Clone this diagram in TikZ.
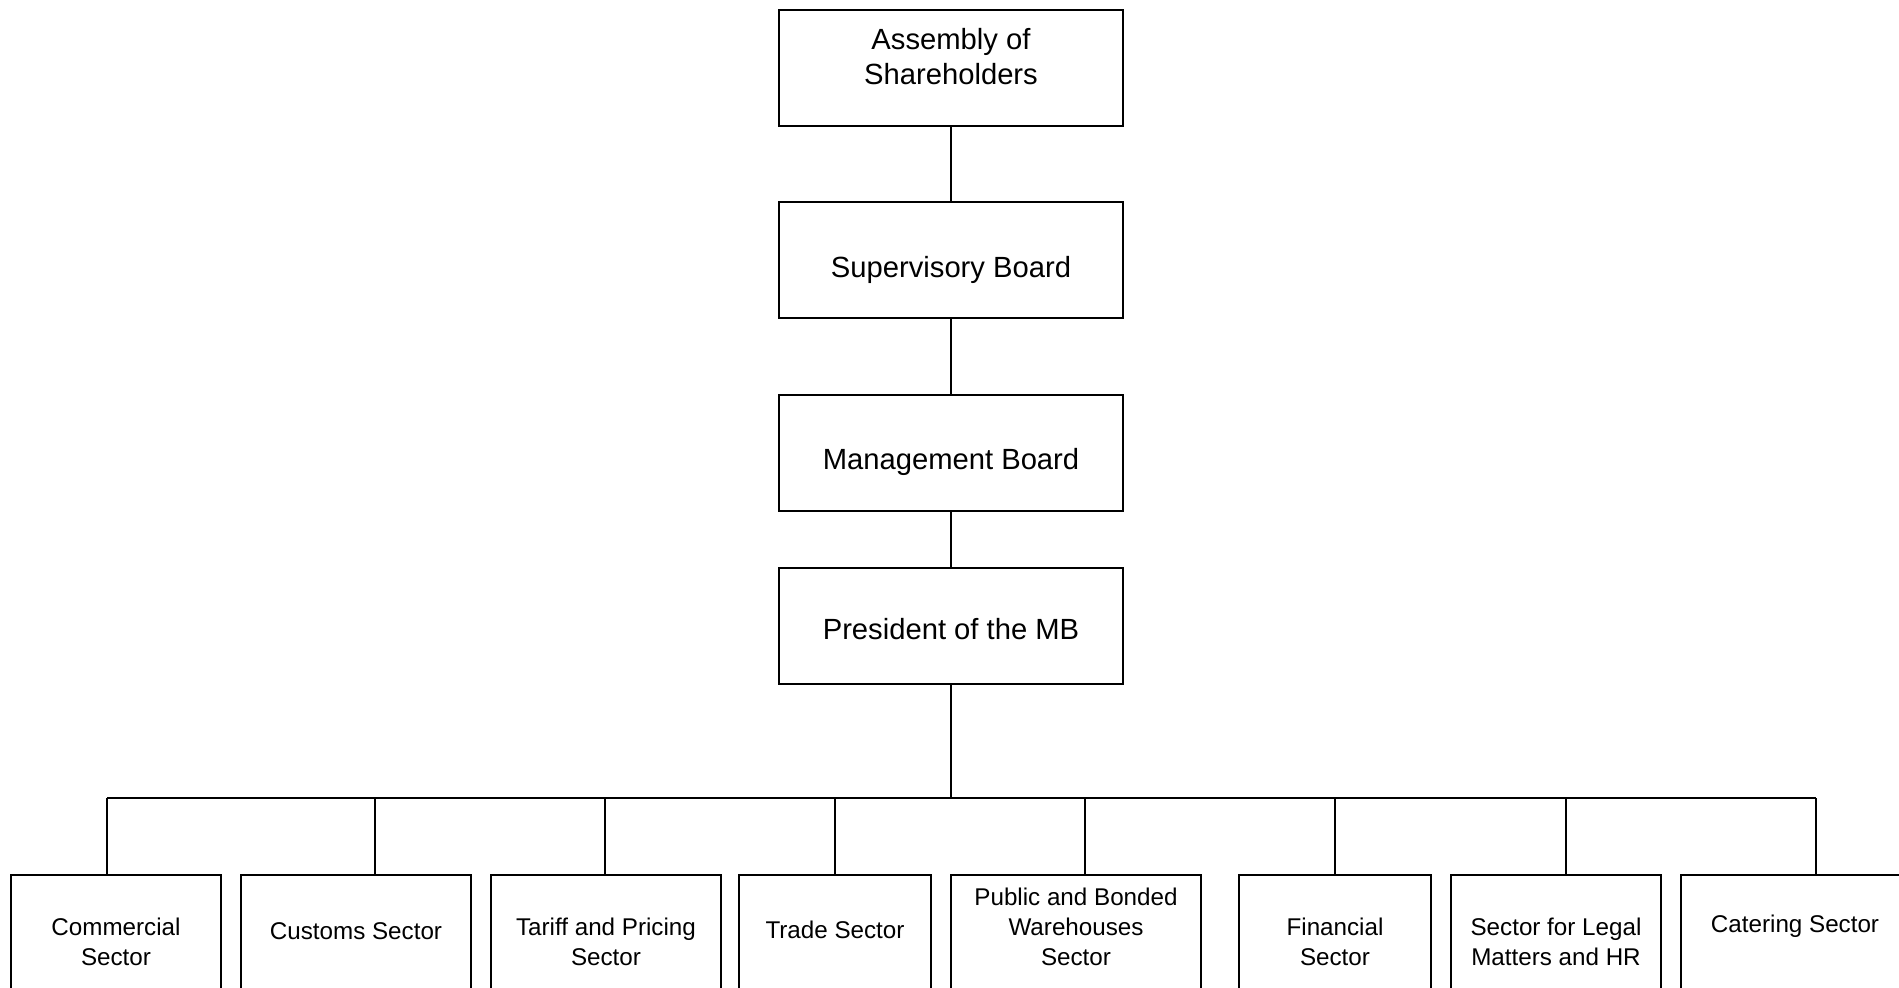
\documentclass[tikz,border=0pt]{standalone}
\usepackage{fontspec}
\setmainfont{Liberation Sans}
\tikzset{
	board/.style = {draw, line width=1pt, minimum width=172pt, minimum height=58pt},
	boardtext/.style = {align=center, font=\fontsize{14.6}{17.5}\selectfont},
	sector/.style = {draw, line width=1pt, anchor=north, minimum height=100pt},
	sectortext/.style = {align=center, font=\fontsize{12.1}{15}\selectfont},
	link/.style = {line width=1pt},
}

\begin{document}
\begin{tikzpicture}[x=0.5pt, y=-0.5pt]
	\useasboundingbox (0,0) rectangle (1899,987);
	\clip (0,0) rectangle (1899,987);
	\node[board] (asm) at (951,68) {};
	\node[board] (sup) at (951,260) {};
	\node[board] (man) at (951,452.5) {};
	\node[board] (pres) at (951,625.5) {};
	\node[boardtext] (asmt) at (951,56.5) {Assembly of\\Shareholders};
	\node[boardtext] (supt) at (951,269.5) {Supervisory Board};
	\node[boardtext] (mant) at (951,462) {Management Board};
	\node[boardtext] (prest) at (951,629) {President of the MB};
	\draw[link] (asm) -- (sup);
	\draw[link] (sup) -- (man);
	\draw[link] (man) -- (pres);
	\foreach \x/\w/\ty/\s/\t [count = \i] in {
			116/210/942/107/{Commercial\\Sector},
			356/230/931/375/{Customs Sector},
			606/230/942/605/{Tariff and Pricing\\Sector},
			835/192/930/835/{Trade Sector},
			1076/250/927/1085/{Public and Bonded\\Warehouses\\Sector},
			1335/192/942/1335/{Financial\\Sector},
			1556/210/942/1566/{Sector for Legal\\Matters and HR},
			1795/228/926.5/1816/{Catering Sector}} {
		\node[sector, minimum width=\w*0.5pt] (sec\i) at (\x,874) {};
		\node[sectortext] (sect\i) at (\x,\ty) {\t};
		\coordinate (bus\i) at (\s,798);
		\draw[link] (bus\i) -- (bus\i |- sec\i.north);
	}
	\draw[link] (bus1) -- (bus8);
	\draw[link] (pres) -- (pres |- bus1);
\end{tikzpicture}
\end{document}
